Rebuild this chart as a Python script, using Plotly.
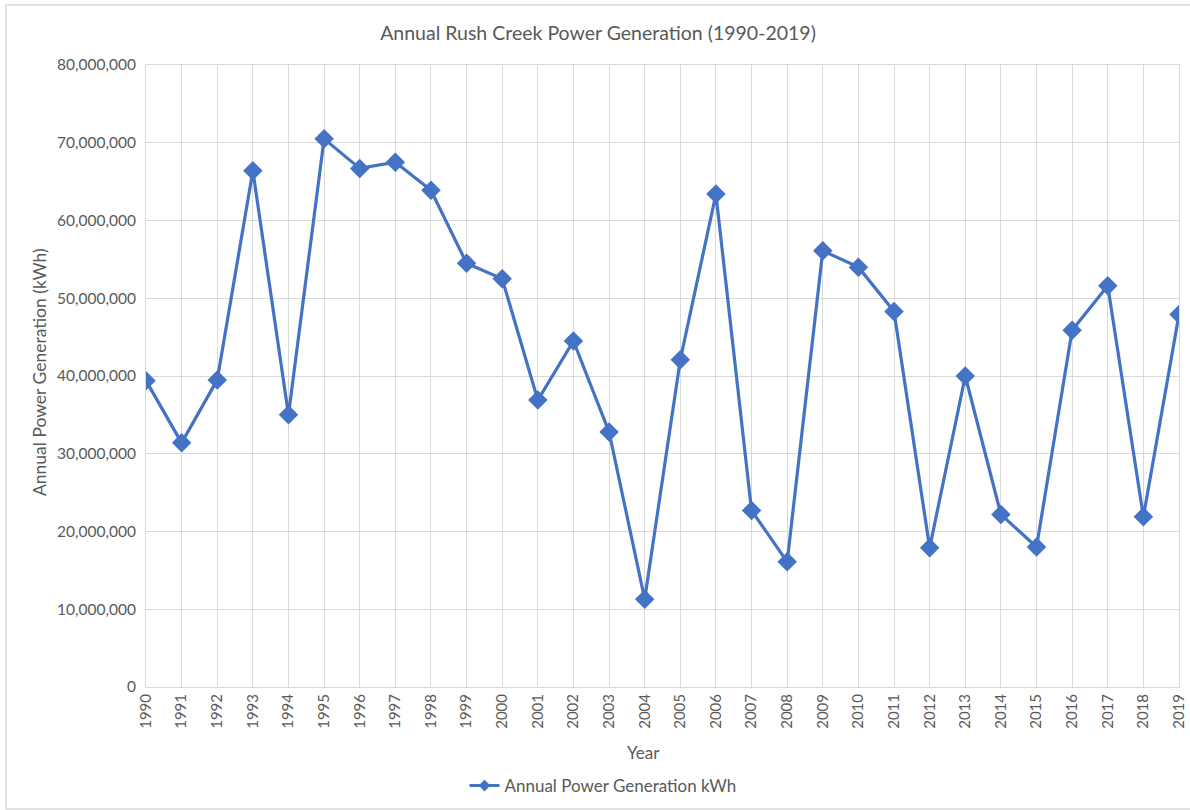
import plotly.graph_objects as go

years = list(range(1990, 2020))
generation_kwh = [
    39.4e6, 31.4e6, 39.5e6, 66.4e6, 35.0e6, 70.5e6, 66.7e6, 67.5e6, 63.9e6, 54.5e6,
    52.5e6, 36.9e6, 44.5e6, 32.8e6, 11.3e6, 42.1e6, 63.4e6, 22.7e6, 16.1e6, 56.1e6,
    54.0e6, 48.3e6, 17.9e6, 40.0e6, 22.2e6, 18.0e6, 45.9e6, 51.6e6, 21.9e6, 47.9e6,
]
series_name = "Annual Power Generation kWh"
title_text = "Annual Rush Creek Power Generation (1990-2019)"
y_title = "Annual Power Generation (kWh)"
x_title = "Year"

BLUE = "#4472C4"
TXT = "#595959"
GRID = "#D9D9D9"
FONT = "Lato"

W, H = 1190, 810
L, R, T, B = 146, 11, 65, 123
pw, ph = W - L - R, H - T - B

def px_x(x):
    return (x - L) / pw

def px_y(y):
    return (H - B - y) / ph

fig = go.Figure()
fig.add_trace(go.Scatter(
    x=years, y=generation_kwh, mode="lines+markers", name=series_name,
    line=dict(color=BLUE, width=3.2),
    marker=dict(symbol="diamond", size=15, color=BLUE),
    showlegend=False,
))
# legend entry (Excel-style small marker in legend)
fig.add_trace(go.Scatter(
    x=[None], y=[None], mode="lines+markers", name=series_name,
    line=dict(color=BLUE, width=3),
    marker=dict(symbol="diamond", size=9, color=BLUE),
    showlegend=True,
))

fig.update_layout(
    width=W, height=H,
    margin=dict(l=L, r=R, t=T, b=B, autoexpand=False),
    paper_bgcolor="white", plot_bgcolor="white",
    font=dict(family=FONT, color=TXT, size=15),
    title=dict(text=title_text, x=598 / W, xanchor="center", y=1 - 33 / H, yanchor="middle",
               font=dict(family=FONT, size=19.5, color=TXT)),
    showlegend=True,
    legend=dict(orientation="h", x=px_x(603), xanchor="center", y=px_y(786), yanchor="middle",
                font=dict(family=FONT, size=17, color=TXT), bgcolor="rgba(0,0,0,0)",
                itemwidth=30),
    xaxis=dict(
        range=[1990, 2019], tickmode="array", tickvals=years, ticktext=[str(y) for y in years],
        tickangle=-90, showgrid=True, gridcolor=GRID, gridwidth=1, automargin=False,
        showline=True, linecolor=GRID, mirror=True, ticks="", zeroline=False,
        tickfont=dict(family=FONT, size=15, color=TXT),
    ),
    yaxis=dict(
        range=[0, 80e6], dtick=10e6, tickformat=",", showgrid=True, gridcolor=GRID, gridwidth=1,
        showline=True, linecolor=GRID, mirror=True, ticks="", zeroline=False, automargin=False,
        tickfont=dict(family=FONT, size=15.5, color=TXT), ticklabelstandoff=6,
    ),
    annotations=[
        dict(text=y_title, x=px_x(40), y=px_y(372), xref="paper", yref="paper", textangle=-90,
             showarrow=False, xanchor="center", yanchor="middle",
             font=dict(family=FONT, size=17.5, color=TXT)),
        dict(text=x_title, x=px_x(643), y=px_y(752), xref="paper", yref="paper",
             showarrow=False, xanchor="center", yanchor="middle",
             font=dict(family=FONT, size=17, color=TXT)),
    ],
    shapes=[
        dict(type="rect", xref="paper", yref="paper", x0=px_x(6), x1=px_x(1200), y0=px_y(809), y1=px_y(5),
             line=dict(color=GRID, width=1.5), fillcolor="rgba(0,0,0,0)", layer="below"),
    ],
)

fig.write_html(
    "out.html",
    config={"displayModeBar": False},
    post_script="document.body.style.margin='0px';document.body.style.overflow='hidden';",
)
